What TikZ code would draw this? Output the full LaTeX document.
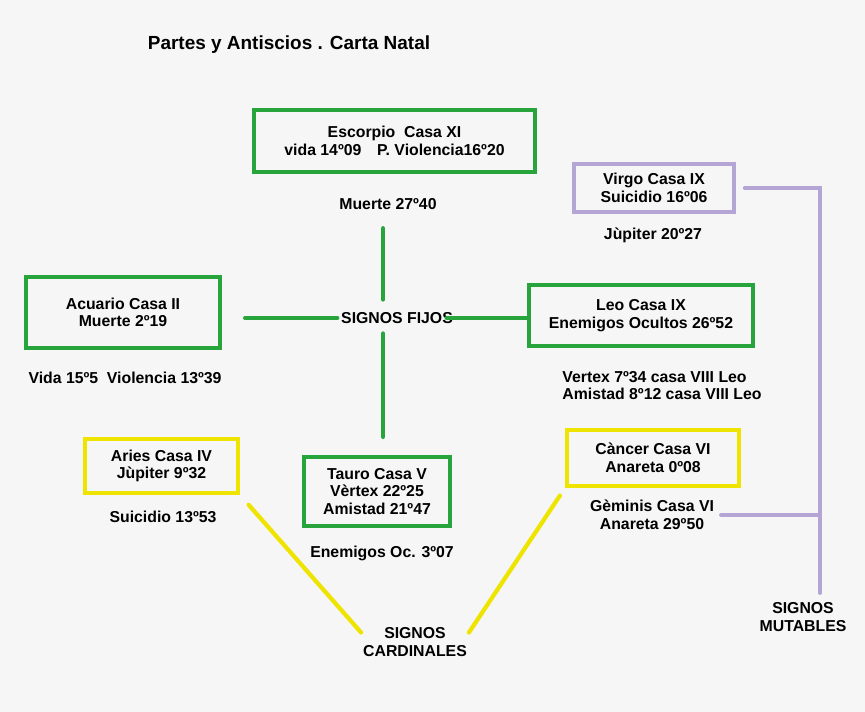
\documentclass[tikz,border=0pt]{standalone}
\usepackage{fontspec}
\setmainfont{Liberation Sans}
\usetikzlibrary{positioning, calc}

\definecolor{verdefijo}{RGB}{40,164,60}
\definecolor{amarillocard}{RGB}{238,228,0}
\definecolor{lilamut}{RGB}{180,165,212}
\definecolor{fondo}{RGB}{246,246,246}

\begin{document}
\begin{tikzpicture}[
  x=0.02cm, y=-0.02cm,
  casa/.style={draw, line width=2.4pt, inner sep=0pt, align=center, font=\bfseries\fontsize{9}{10}\selectfont},
  nota/.style={inner sep=1pt, align=center, font=\bfseries\fontsize{9}{10}\selectfont},
  fijo/.style={verdefijo, line width=2.4pt, line cap=round},
  cardinal/.style={amarillocard, line width=2.4pt, line cap=round},
  mutable/.style={lilamut, line width=2.2pt, line cap=round}
]
\fill[fondo] (0,0) rectangle (865,712);

\node[font=\bfseries\fontsize{10.8}{12}\selectfont] (titulo) at (289,45) {Partes y Antiscios . Carta Natal};

% signos fijos
\node[casa, draw=verdefijo, minimum width=5.62cm, minimum height=1.24cm] (escorpio) at (394.5,141) {Escorpio\ \ Casa XI\\vida 14º09\quad P. Violencia16º20};
\node[nota] (muerteE) at (388,204) {Muerte 27º40};
\node[casa, draw=verdefijo, minimum width=3.88cm, minimum height=1.42cm] (acuario) at (123,312.5) {Acuario Casa II\\Muerte 2º19};
\node[nota] (vidaA) at (125,378) {Vida 15º5\ \ Violencia 13º39};
\node[casa, draw=verdefijo, minimum width=4.48cm, minimum height=1.22cm] (leo) at (641,315.5) {Leo Casa IX\\Enemigos Ocultos 26º52};
\node[nota, align=left] (vertexL) at (662,385.5) {Vertex 7º34 casa VIII Leo\\Amistad 8º12 casa VIII Leo};
\node[casa, draw=verdefijo, minimum width=2.92cm, minimum height=1.38cm] (tauro) at (377,491.5) {Tauro Casa V\\Vèrtex 22º25\\Amistad 21º47};
\node[nota] (enemT) at (382,553) {Enemigos Oc. 3º07};
\node[nota, inner sep=2pt] (fijos) at (397,318) {SIGNOS FIJOS};
\coordinate (cruz) at (383,318);

\draw[fijo, shorten <=0.46cm] (acuario.east |- fijos.west) -- (fijos.west);
\draw[fijo, shorten <=-0.2cm] (fijos.east) -- (fijos.east -| leo.west);
\draw[fijo, shorten <=0.33cm, shorten >=0.18cm] (cruz |- muerteE.south) -- (cruz |- fijos.north);
\draw[fijo, shorten <=0.12cm, shorten >=0.36cm] (cruz |- fijos.south) -- (cruz |- tauro.north);

% signos cardinales
\node[casa, draw=amarillocard, minimum width=3.06cm, minimum height=1.08cm] (aries) at (161.5,466) {Aries Casa IV\\Jùpiter 9º32};
\node[nota] (suicA) at (163,517) {Suicidio 13º53};
\node[casa, draw=amarillocard, minimum width=3.44cm, minimum height=1.12cm] (cancer) at (653,458) {Càncer Casa VI\\Anareta 0º08};
\node[nota] (cardin) at (415,642) {SIGNOS\\CARDINALES};

\draw[cardinal, shorten <=0.26cm] (aries.south east) -- (cardin.170);
\draw[cardinal, shorten <=0.18cm] (cancer.south west) -- (cardin.10);

% signos mutables
\node[casa, draw=lilamut, line width=2pt, minimum width=3.2cm, minimum height=0.96cm] (virgo) at (654,188) {Virgo Casa IX\\Suicidio 16º06};
\node[nota] (jupV) at (653,235) {Jùpiter 20º27};
\node[nota] (gemin) at (652,515) {Gèminis Casa VI\\Anareta 29º50};
\node[nota] (mutab) at (803,617) {SIGNOS\\MUTABLES};
\coordinate (mutfin) at (820,593);

\draw[mutable, shorten <=0.18cm] (virgo.east) -| (mutfin);
\draw[mutable, shorten <=0.1cm] (gemin.east) -- (gemin.east -| mutfin);
\end{tikzpicture}
\end{document}
